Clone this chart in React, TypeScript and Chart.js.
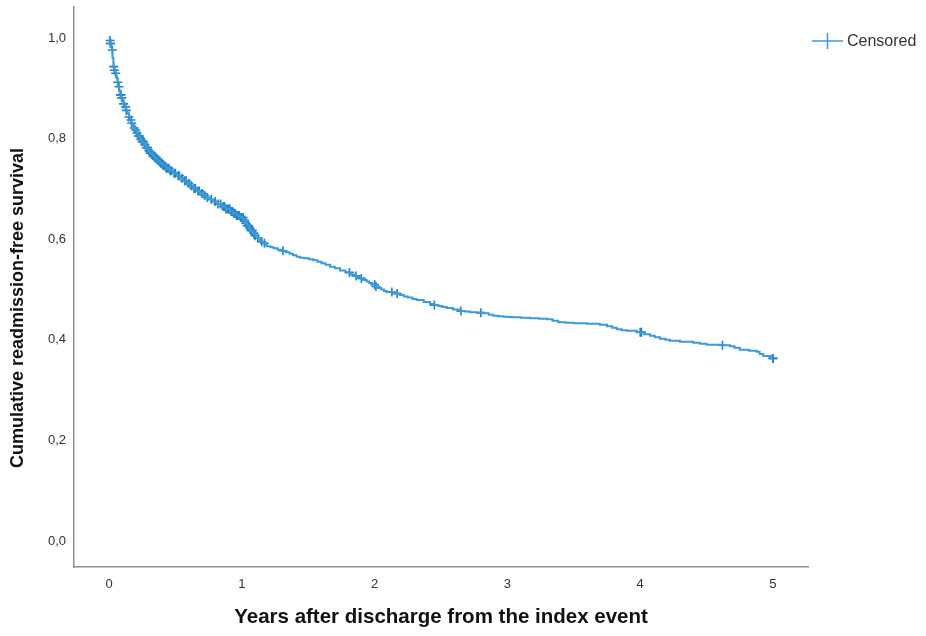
import React, { useEffect, useRef } from 'react';
import { Chart, registerables } from 'chart.js';

Chart.register(...registerables);

// Kaplan–Meier step curve (time in years, cumulative survival)
const STEP_TIMES = [
  0, 0.005, 0.01, 0.015, 0.02, 0.026, 0.033, 0.04, 0.047, 0.053,
  0.058, 0.064, 0.07, 0.077, 0.083, 0.091, 0.1, 0.11, 0.12, 0.13,
  0.14, 0.149, 0.158, 0.167, 0.176, 0.186, 0.196, 0.208, 0.22, 0.233,
  0.246, 0.262, 0.278, 0.294, 0.309, 0.327, 0.345, 0.364, 0.384, 0.407,
  0.43, 0.457, 0.484, 0.51, 0.535, 0.56, 0.585, 0.61, 0.635, 0.66,
  0.685, 0.71, 0.735, 0.76, 0.785, 0.817, 0.85, 0.88, 0.911, 0.935,
  0.96, 0.985, 1.011, 1.025, 1.04, 1.051, 1.062, 1.081, 1.1, 1.118,
  1.137, 1.15, 1.162, 1.175, 1.187, 1.215, 1.24, 1.27, 1.3, 1.33,
  1.36, 1.385, 1.413, 1.44, 1.47, 1.505, 1.538, 1.57, 1.6, 1.63,
  1.664, 1.7, 1.74, 1.78, 1.815, 1.845, 1.87, 1.895, 1.915, 1.94,
  1.96, 1.98, 2.003, 2.025, 2.05, 2.07, 2.09, 2.14, 2.19, 2.22,
  2.25, 2.285, 2.317, 2.37, 2.417, 2.45, 2.48, 2.51, 2.543, 2.59,
  2.643, 2.68, 2.72, 2.77, 2.819, 2.86, 2.894, 2.93, 2.97, 3.0,
  3.044, 3.1, 3.17, 3.24, 3.3, 3.34, 3.383, 3.44, 3.5, 3.6,
  3.697, 3.75, 3.79, 3.823, 3.86, 3.9, 3.974, 4.03, 4.074, 4.11,
  4.149, 4.19, 4.224, 4.3, 4.4, 4.45, 4.5, 4.6, 4.676, 4.71,
  4.75, 4.82, 4.877, 4.9, 4.927, 4.99, 5.0,
];
const STEP_SURVIVAL = [
  1.0, 0.995, 0.989, 0.983, 0.976, 0.96, 0.943, 0.936, 0.93, 0.925,
  0.92, 0.912, 0.903, 0.895, 0.887, 0.881, 0.875, 0.869, 0.863, 0.856,
  0.85, 0.843, 0.837, 0.831, 0.826, 0.821, 0.817, 0.811, 0.805, 0.799,
  0.794, 0.788, 0.782, 0.776, 0.771, 0.766, 0.761, 0.756, 0.751, 0.746,
  0.741, 0.736, 0.731, 0.726, 0.721, 0.716, 0.711, 0.706, 0.701, 0.696,
  0.691, 0.687, 0.683, 0.679, 0.675, 0.67, 0.665, 0.66, 0.655, 0.651,
  0.647, 0.643, 0.638, 0.632, 0.627, 0.622, 0.617, 0.612, 0.607, 0.602,
  0.598, 0.595, 0.592, 0.589, 0.586, 0.584, 0.582, 0.579, 0.577, 0.574,
  0.571, 0.568, 0.565, 0.563, 0.562, 0.56, 0.558, 0.555, 0.552, 0.549,
  0.545, 0.542, 0.538, 0.534, 0.53, 0.527, 0.525, 0.522, 0.519, 0.516,
  0.513, 0.51, 0.506, 0.503, 0.5, 0.497, 0.495, 0.492, 0.489, 0.486,
  0.484, 0.481, 0.479, 0.475, 0.471, 0.469, 0.467, 0.465, 0.463, 0.46,
  0.457, 0.456, 0.455, 0.454, 0.453, 0.45, 0.448, 0.447, 0.446, 0.4455,
  0.445, 0.444, 0.443, 0.442, 0.441, 0.438, 0.435, 0.434, 0.433, 0.432,
  0.43, 0.427, 0.424, 0.421, 0.419, 0.418, 0.415, 0.411, 0.408, 0.405,
  0.402, 0.4, 0.398, 0.396, 0.394, 0.392, 0.39, 0.389, 0.387, 0.384,
  0.38, 0.378, 0.376, 0.372, 0.368, 0.363, 0.363,
];

// Times of censored observations (years)
const CENSOR_TIMES = [
  0.008, 0.01, 0.012, 0.025, 0.035, 0.04, 0.05, 0.065, 0.075, 0.085, 0.09, 0.095, 0.11, 0.125, 0.13,
  0.15, 0.165, 0.17, 0.19, 0.2, 0.21, 0.22, 0.23, 0.24, 0.25, 0.26, 0.27, 0.28, 0.29, 0.3, 0.31, 0.32,
  0.33, 0.34, 0.35, 0.36, 0.37, 0.38, 0.39, 0.4, 0.41, 0.42, 0.43, 0.44, 0.45, 0.46, 0.47, 0.49, 0.5,
  0.52, 0.53, 0.55, 0.57, 0.58, 0.6, 0.62, 0.64, 0.65, 0.67, 0.68, 0.7, 0.72, 0.74, 0.77, 0.8, 0.82,
  0.84, 0.86, 0.87, 0.88, 0.89, 0.9, 0.91, 0.92, 0.93, 0.94, 0.95, 0.96, 0.97, 0.98, 0.99, 1.0, 1.01,
  1.02, 1.03, 1.04, 1.05, 1.06, 1.07, 1.08, 1.09, 1.1, 1.12, 1.15, 1.17, 1.31, 1.81, 1.86, 1.9, 2.0,
  2.01, 2.13, 2.17, 2.45, 2.65, 2.8, 4.0, 4.01, 4.62, 5.0, 5.0,
];

const X_TICKS = [0, 1, 2, 3, 4, 5];
const Y_TICKS = [0, 0.2, 0.4, 0.6, 0.8, 1.0];
const X_TITLE = 'Years after discharge from the index event';
const Y_TITLE = 'Cumulative readmission-free survival';
const LEGEND_LABEL = 'Censored';

const LINE_COLOR = '#3c9ad8';
const MARK_COLOR = '#2283c7';
const AXIS_COLOR = '#8f8f8f';
const TEXT_COLOR = '#333333';
const FONT = 'Arial, "Liberation Sans", sans-serif';

// survival value of the step function at time t (last step at or before t)
function survivalAt(t: number): number {
  let s = STEP_SURVIVAL[0];
  for (let i = 0; i < STEP_TIMES.length; i++) {
    if (STEP_TIMES[i] <= t) s = STEP_SURVIVAL[i];
    else break;
  }
  return s;
}

const overlayPlugin = {
  id: 'overlay',
  afterDraw(chart: any) {
    const { ctx, chartArea } = chart;
    ctx.save();
    ctx.fillStyle = '#111111';
    ctx.font = `bold 20.5px ${FONT}`;
    ctx.textAlign = 'center';
    ctx.textBaseline = 'middle';
    ctx.fillText(X_TITLE, (chartArea.left + chartArea.right) / 2, 617);
    ctx.save();
    ctx.translate(18, 308);
    ctx.rotate(-Math.PI / 2);
    ctx.font = `bold 18px ${FONT}`;
    ctx.fillText(Y_TITLE, 0, 0);
    ctx.restore();

    // legend
    const ly = 41;
    ctx.strokeStyle = LINE_COLOR;
    ctx.lineWidth = 1.5;
    ctx.beginPath();
    ctx.moveTo(812, ly);
    ctx.lineTo(843, ly);
    ctx.stroke();
    ctx.beginPath();
    ctx.moveTo(827.5, ly - 8);
    ctx.lineTo(827.5, ly + 8);
    ctx.stroke();
    ctx.fillStyle = TEXT_COLOR;
    ctx.font = `16px ${FONT}`;
    ctx.textAlign = 'left';
    ctx.textBaseline = 'middle';
    ctx.fillText(LEGEND_LABEL, 847, ly + 1);
    ctx.restore();
  },
};

export default function App() {
  const ref = useRef<HTMLCanvasElement>(null);

  useEffect(() => {
    if (!ref.current) return;
    const curve = STEP_TIMES.map((t, i) => ({ x: t, y: STEP_SURVIVAL[i] }));
    const censored = CENSOR_TIMES.map((t) => ({ x: t, y: survivalAt(t) }));

    const chart = new Chart(ref.current, {
      type: 'scatter',
      data: {
        datasets: [
          {
            label: 'Survival',
            data: curve,
            showLine: true,
            stepped: 'before',
            borderColor: LINE_COLOR,
            borderWidth: 2,
            pointRadius: 0,
            pointHoverRadius: 0,
            fill: false,
          } as any,
          {
            label: LEGEND_LABEL,
            data: censored,
            showLine: false,
            pointStyle: 'cross',
            pointRadius: 4.5,
            borderColor: MARK_COLOR,
            backgroundColor: MARK_COLOR,
            pointBorderWidth: 1.6,
          } as any,
        ],
      },
      options: {
        animation: false,
        responsive: false,
        maintainAspectRatio: false,
        layout: { padding: { top: 7, right: 118, left: 0, bottom: 0 } },
        plugins: { legend: { display: false }, tooltip: { enabled: false } },
        scales: {
          x: {
            type: 'linear',
            min: -0.264,
            max: 5.264,
            afterBuildTicks: (s: any) => {
              s.ticks = X_TICKS.map((v) => ({ value: v }));
            },
            afterFit: (s: any) => {
              s.height = 69;
              s.paddingLeft = 0;
              s.paddingRight = 0;
              s.paddingTop = 0;
              s.paddingBottom = 0;
            },
            grid: { display: false, drawTicks: false },
            border: { display: true, color: AXIS_COLOR, width: 1.5 },
            ticks: {
              padding: 10,
              color: TEXT_COLOR,
              font: { family: FONT, size: 13 },
              maxRotation: 0,
              callback: (v: any) => String(v),
            },
          },
          y: {
            type: 'linear',
            min: -0.0517,
            max: 1.0616,
            afterBuildTicks: (s: any) => {
              s.ticks = Y_TICKS.map((v) => ({ value: v }));
            },
            afterFit: (s: any) => {
              s.width = 74;
              s.paddingLeft = 0;
              s.paddingRight = 0;
              s.paddingTop = 0;
              s.paddingBottom = 0;
            },
            grid: { display: false, drawTicks: false },
            border: { display: true, color: AXIS_COLOR, width: 1.5 },
            ticks: {
              padding: 8,
              color: TEXT_COLOR,
              font: { family: FONT, size: 13 },
              callback: (v: any) => Number(v).toFixed(1).replace('.', ','),
            },
          },
        },
      },
      plugins: [overlayPlugin],
    });
    return () => chart.destroy();
  }, []);

  return (
    <div style={{ position: 'absolute', left: 0, top: 0, width: 926, height: 636, background: '#fff' }}>
      <canvas ref={ref} width={926} height={636} style={{ width: 926, height: 636 }} />
    </div>
  );
}
